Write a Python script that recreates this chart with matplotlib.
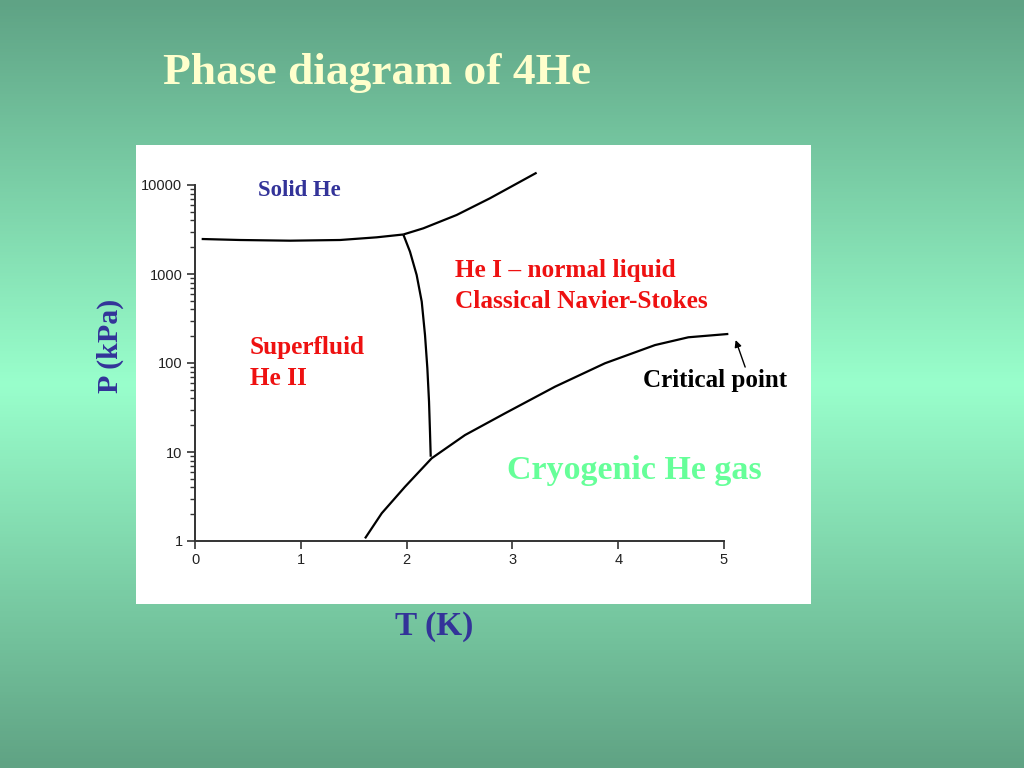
import matplotlib.pyplot as plt
import numpy as np
from matplotlib.colors import LinearSegmentedColormap
from matplotlib.patches import Rectangle
from matplotlib.ticker import FixedLocator, LogLocator, NullFormatter

# Melting curve, lower part (solid / superfluid boundary)
melt_low_T = [0.063, 0.425, 0.898, 1.371, 1.717, 1.969]
melt_low_P = [2473, 2410, 2368, 2410, 2583, 2780]

# Melting curve, upper part (solid / He I boundary)
melt_high_T = [1.969, 2.158, 2.473, 2.788, 3.229]
melt_high_P = [2780, 3260, 4603, 7096, 13750]

# Lambda line
lambda_T = [1.969, 2.032, 2.095, 2.143, 2.174, 2.196, 2.212, 2.221, 2.228]
lambda_P = [2780, 1782, 975, 489, 206, 87.9, 36.7, 16.9, 8.85]

# Vapour pressure curve
vapor_T = [1.607, 1.765, 1.985, 2.237, 2.552, 2.930, 3.403, 3.875, 4.348, 4.663, 5.041]
vapor_P = [1.07, 2.05, 4.07, 8.5, 15.5, 27.2, 54.2, 99.3, 159, 194.5, 212]

x_ticks = [0, 1, 2, 3, 4, 5]
y_ticks = [1, 10, 100, 1000, 10000]
y_labels = ['1', '10', '100', '1000', '10000']

serif = 'Liberation Serif'
blue = '#333399'
red = '#ee1111'

fig = plt.figure(figsize=(10.24, 7.68), dpi=100)

# slide background gradient
bg = fig.add_axes([0, 0, 1, 1])
cmap = LinearSegmentedColormap.from_list(
    'slide', [(0.0, '#5fa385'), (0.5, '#99ffcc'), (1.0, '#60a384')])
bg.imshow(np.linspace(0, 1, 256).reshape(-1, 1), aspect='auto', cmap=cmap,
          extent=[0, 1, 0, 1])
bg.set_axis_off()

# white panel behind the plot
fig.patches.append(Rectangle((136 / 1024, 1 - 604 / 768), 675 / 1024, 459 / 768,
                             transform=fig.transFigure, facecolor='white',
                             edgecolor='none', zorder=1))

ax = fig.add_axes([195 / 1024, 1 - 541 / 768, 529 / 1024, 356 / 768])
ax.set_facecolor('none')
ax.set_zorder(2)

for T, P in [(melt_low_T, melt_low_P), (melt_high_T, melt_high_P),
             (lambda_T, lambda_P), (vapor_T, vapor_P)]:
    ax.plot(T, P, color='black', lw=1.6, clip_on=False,
            solid_capstyle='butt', solid_joinstyle='round')

ax.set_yscale('log')
ax.set_xlim(0, 5)
ax.set_ylim(1, 10000)
ax.spines['top'].set_visible(False)
ax.spines['right'].set_visible(False)
for s in ['left', 'bottom']:
    ax.spines[s].set_color('#333333')
    ax.spines[s].set_linewidth(1.4)

ax.xaxis.set_major_locator(FixedLocator(x_ticks))
ax.set_xticklabels([str(t) for t in x_ticks])
ax.yaxis.set_major_locator(FixedLocator(y_ticks))
ax.set_yticklabels(y_labels)
ax.yaxis.set_minor_locator(LogLocator(base=10, subs=np.arange(2, 10)))
ax.yaxis.set_minor_formatter(NullFormatter())
ax.tick_params(axis='both', which='major', direction='out', length=6, width=1.2,
               color='#333333', labelsize=10.5, labelcolor='#222222', pad=3)
ax.tick_params(axis='y', which='minor', direction='out', length=3.5, width=1.0,
               color='#333333')
for lab in ax.get_xticklabels() + ax.get_yticklabels():
    lab.set_family('Liberation Sans')

ax.annotate('', xy=(5.11, 181), xytext=(5.2, 90), annotation_clip=False,
            arrowprops=dict(arrowstyle='-|>', color='black', lw=1.0,
                            mutation_scale=10, shrinkA=0, shrinkB=0))

# slide texts
fig.text(163 / 1024, 1 - 73 / 768, 'Phase diagram of 4He', family=serif,
         weight='bold', fontsize=32.7, color='#ffffcc', va='center', ha='left')
fig.text(110 / 1024, 1 - 346 / 768, 'P (kPa)', family=serif, weight='bold',
         fontsize=21.5, color=blue, rotation=90, ha='center', va='center')
fig.text(434 / 1024, 1 - 626 / 768, 'T (K)', family=serif, weight='bold',
         fontsize=24, color=blue, ha='center', va='center')

fig.text(258 / 1024, 1 - 190 / 768, 'Solid He', family=serif, weight='bold',
         fontsize=16.4, color=blue, ha='left', va='center', zorder=3)
fig.text(455 / 1024, 1 - 286 / 768, 'He I \u2013 normal liquid\nClassical Navier-Stokes',
         family=serif, weight='bold', fontsize=18.2, color=red, ha='left',
         va='center', linespacing=1.4, zorder=3)
fig.text(250 / 1024, 1 - 363 / 768, 'Superfluid\nHe II', family=serif,
         weight='bold', fontsize=18.2, color=red, ha='left', va='center',
         linespacing=1.4, zorder=3)
fig.text(643 / 1024, 1 - 380 / 768, 'Critical point', family=serif,
         weight='bold', fontsize=18.1, color='black', ha='left', va='center',
         zorder=3)
fig.text(507 / 1024, 1 - 471 / 768, 'Cryogenic He gas', family=serif,
         weight='bold', fontsize=24.5, color='#66ff99', ha='left', va='center',
         zorder=3)

plt.savefig('out.png', dpi=100)
